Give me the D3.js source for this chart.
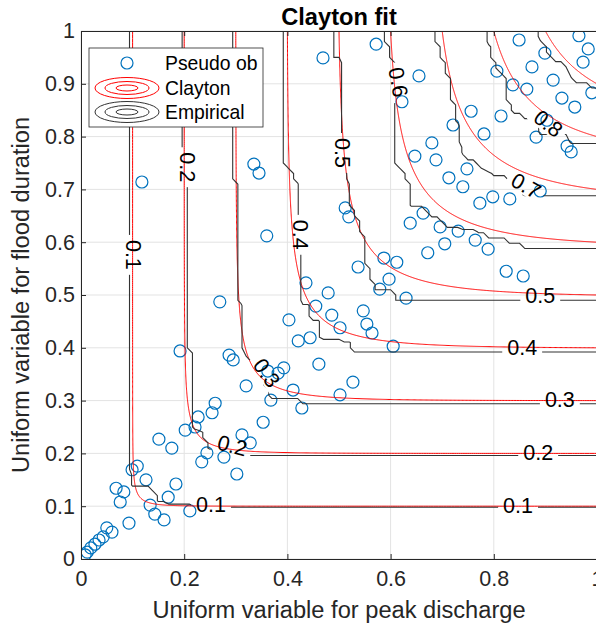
<!DOCTYPE html>
<html>
<head>
<meta charset="utf-8">
<script src="https://cdn.jsdelivr.net/npm/d3@7"></script>
<style>
  body { margin: 0; background: #fff; }
  text { font-family: "Liberation Sans", Arial, sans-serif; fill: #222; }
</style>
</head>
<body>
<svg id="chart" width="596" height="629"></svg>
<script>
// pseudo observations (u = peak discharge, v = flood duration)
const pseudoU = [0.008,0.012,0.019,0.027,0.035,0.043,0.060,0.050,0.093,0.068,0.083,0.076,0.099,0.109,0.126,0.134,0.143,0.161,0.169,0.184,
  0.211,0.151,0.176,0.202,0.221,0.227,0.254,0.260,0.244,0.234,0.277,0.302,0.312,0.328,0.353,0.192,0.287,0.295,0.320,0.362,
  0.382,0.393,0.368,0.411,0.428,0.421,0.444,0.461,0.502,0.118,0.335,0.345,0.360,0.269,0.436,0.479,0.455,0.486,0.403,0.469,
  0.572,0.655,0.622,0.756,0.814,0.721,0.781,0.680,0.647,0.688,0.748,0.713,0.740,0.798,0.831,0.890,0.773,0.849,0.806,0.874,
  0.899,0.837,0.864,0.915,0.932,0.957,0.882,0.942,0.950,0.965,0.983,0.973,0.990,0.903,0.512,0.519,0.638,0.663,0.696,0.731,
  0.764,0.789,0.705,0.672,0.824,0.857,0.587,0.612,0.537,0.597,0.579,0.630,0.547,0.554,0.564,0.502,0.605,0.527];
const pseudoV = [0.008,0.013,0.021,0.028,0.036,0.042,0.051,0.059,0.068,0.134,0.127,0.108,0.169,0.176,0.150,0.102,0.085,0.074,0.117,0.142,
  0.091,0.227,0.210,0.244,0.250,0.269,0.277,0.295,0.201,0.184,0.193,0.161,0.235,0.220,0.259,0.394,0.386,0.377,0.328,0.356,
  0.352,0.362,0.301,0.320,0.286,0.413,0.419,0.369,0.311,0.714,0.748,0.731,0.612,0.487,0.523,0.504,0.479,0.462,0.453,0.949,
  0.975,0.915,0.866,0.848,0.839,0.822,0.805,0.788,0.763,0.756,0.739,0.722,0.705,0.686,0.682,0.697,0.674,0.983,0.924,0.932,
  0.958,0.898,0.890,0.907,0.873,0.856,0.799,0.782,0.771,0.991,0.966,0.941,0.883,0.831,0.665,0.648,0.636,0.655,0.629,0.621,
  0.604,0.587,0.597,0.580,0.545,0.536,0.570,0.562,0.553,0.530,0.511,0.494,0.470,0.445,0.428,0.438,0.403,0.335];

const levels = [0.1, 0.2, 0.3, 0.4, 0.5, 0.6, 0.7, 0.8, 0.9];
const theta = 4.8; // fitted Clayton parameter
const xTicks = [0, 0.2, 0.4, 0.6, 0.8, 1];
const yTicks = [0, 0.1, 0.2, 0.3, 0.4, 0.5, 0.6, 0.7, 0.8, 0.9, 1];

// inline labels on the empirical contours: level, where (u, v), rotation
const contourLabels = [
  { level: 0.1, u: 0.101, v: 0.576, rot: 90 },
  { level: 0.2, u: 0.205, v: 0.742, rot: 90 },
  { level: 0.4, u: 0.424, v: 0.614, rot: 90 },
  { level: 0.5, u: 0.506, v: 0.769, rot: 90 },
  { level: 0.6, u: 0.614, v: 0.903, rot: 80 },
  { level: 0.7, u: 0.862, v: 0.706, rot: 30 },
  { level: 0.8, u: 0.905, v: 0.824, rot: 38 },
  { level: 0.3, u: 0.359, v: 0.352, rot: 55 },
  { level: 0.2, u: 0.293, v: 0.214, rot: 15 },
  { level: 0.1, u: 0.252, v: 0.102, rot: 0 },
  { level: 0.1, u: 0.847, v: 0.100, rot: 0 },
  { level: 0.2, u: 0.886, v: 0.201, rot: 0 },
  { level: 0.3, u: 0.928, v: 0.301, rot: 0 },
  { level: 0.4, u: 0.855, v: 0.400, rot: 0 },
  { level: 0.5, u: 0.890, v: 0.498, rot: 0 }
];

const W = 596, H = 629;
const M = { left: 81, top: 31, right: 597, bottom: 559 };
const FS = 21.5; // axes font size
const x = d3.scaleLinear([0, 1], [M.left, M.right]);
const y = d3.scaleLinear([0, 1], [M.bottom, M.top]);

const svg = d3.select("#chart");
const defs = svg.append("defs");
defs.append("clipPath").attr("id", "plotClip")
  .append("rect").attr("x", M.left).attr("y", M.top)
  .attr("width", M.right - M.left).attr("height", M.bottom - M.top);

// grid
const grid = svg.append("g").attr("stroke", "#e3e3e3").attr("stroke-width", 1);
grid.selectAll(".gx").data(xTicks).join("line").attr("class", "gx")
  .attr("x1", d => x(d)).attr("x2", d => x(d)).attr("y1", M.top).attr("y2", M.bottom);
grid.selectAll(".gy").data(yTicks).join("line").attr("class", "gy")
  .attr("y1", d => y(d)).attr("y2", d => y(d)).attr("x1", M.left).attr("x2", M.right);

// pseudo observations
const pts = pseudoU.map((u, i) => ({ u, v: pseudoV[i] }));
svg.append("g").attr("clip-path", "url(#plotClip)")
  .selectAll("circle").data(pts).join("circle")
  .attr("cx", d => x(d.u)).attr("cy", d => y(d.v)).attr("r", 6)
  .attr("fill", "none").attr("stroke", "#0072BD").attr("stroke-width", 1.2);

// Clayton contours
function claytonCurve(c) {
  const K = Math.pow(c, -theta) + 1, half = K / 2, out = [], steps = 300;
  for (let s = 0; s <= steps; s++) {
    const a = Math.exp(s / steps * Math.log(half));
    out.push([Math.pow(a, -1 / theta), Math.pow(K - a, -1 / theta)]);
  }
  for (let s = steps; s >= 0; s--) {
    const b = Math.exp(s / steps * Math.log(half));
    out.push([Math.pow(K - b, -1 / theta), Math.pow(b, -1 / theta)]);
  }
  return out;
}
const line = d3.line().x(d => x(d[0])).y(d => y(d[1]));
svg.append("g").attr("clip-path", "url(#plotClip)")
  .selectAll("path").data(levels).join("path")
  .attr("d", c => line(claytonCurve(c)))
  .attr("fill", "none").attr("stroke", "#ff0000").attr("stroke-width", 1);

// empirical copula on a grid, contoured
const N = 101, n = pts.length;
const vals = new Array(N * N);
for (let j = 0; j < N; j++) {
  const vv = j / (N - 1) + 1e-9;
  for (let i = 0; i < N; i++) {
    const uu = i / (N - 1) + 1e-9;
    let cnt = 0;
    pts.forEach(p => { if (p.u <= uu && p.v <= vv) cnt++; });
    vals[j * N + i] = cnt / n;
  }
}
const empContours = d3.contours().size([N, N]).thresholds(levels)(vals);
const proj = d3.geoTransform({
  point(px, py) { this.stream.point(x((px - 0.5) / (N - 1)), y((py - 0.5) / (N - 1))); }
});
const geo = d3.geoPath(proj);

const mask = defs.append("mask").attr("id", "labelGaps").attr("maskUnits", "userSpaceOnUse")
  .attr("x", 0).attr("y", 0).attr("width", W).attr("height", H);
mask.append("rect").attr("width", W).attr("height", H).attr("fill", "white");

svg.append("g").attr("clip-path", "url(#plotClip)")
  .append("g").attr("mask", "url(#labelGaps)")
  .selectAll("path").data(empContours).join("path")
  .attr("d", geo)
  .attr("fill", "none").attr("stroke", "#333").attr("stroke-width", 1.1);

// contour labels
const labG = svg.append("g");
contourLabels.forEach(l => {
  const px = x(l.u), py = y(l.v);
  const t = labG.append("text")
    .attr("transform", `translate(${px},${py}) rotate(${l.rot})`)
    .attr("text-anchor", "middle").attr("dominant-baseline", "central")
    .style("font-size", FS + "px").style("fill", "#000")
    .text(String(l.level));
  const w = t.node().getComputedTextLength() + 10;
  mask.append("rect")
    .attr("transform", `translate(${px},${py}) rotate(${l.rot})`)
    .attr("x", -w / 2).attr("y", -9).attr("width", w).attr("height", 18)
    .attr("fill", "black");
});

// axes (ticks inside, box)
const axColor = "#262626";
const axBottom = svg.append("g").attr("transform", `translate(0,${M.bottom})`)
  .call(d3.axisBottom(x).tickValues(xTicks).tickFormat(d3.format("")).tickSize(-5).tickSizeOuter(0).tickPadding(12));
const axLeft = svg.append("g").attr("transform", `translate(${M.left},0)`)
  .call(d3.axisLeft(y).tickValues(yTicks).tickFormat(d3.format("")).tickSize(-5).tickSizeOuter(0).tickPadding(6));
const axTop = svg.append("g").attr("transform", `translate(0,${M.top})`)
  .call(d3.axisTop(x).tickValues(xTicks).tickFormat("").tickSize(-5).tickSizeOuter(0));
[axBottom, axLeft, axTop].forEach(a => {
  a.selectAll("path,line").attr("stroke", axColor);
  a.selectAll("text").style("font-size", FS + "px").style("fill", axColor)
    .style("font-family", '"Liberation Sans", Arial, sans-serif');
});

// legend
const leg = svg.append("g");
leg.append("rect").attr("x", 89).attr("y", 48).attr("width", 174).attr("height", 79)
  .attr("fill", "#fff").attr("stroke", axColor).attr("stroke-width", 0.8);
leg.append("circle").attr("cx", 127).attr("cy", 63).attr("r", 6)
  .attr("fill", "none").attr("stroke", "#0072BD").attr("stroke-width", 1.2);
const rings = [[32, 10.5], [22, 6.5], [11, 3]];
[["#ff0000", 88], ["#333", 112]].forEach(([col, cy]) => {
  rings.forEach(([rx, ry]) => leg.append("ellipse").attr("cx", 127).attr("cy", cy)
    .attr("rx", rx).attr("ry", ry).attr("fill", "none").attr("stroke", col).attr("stroke-width", 1));
});
[["Pseudo ob", 63], ["Clayton", 88], ["Empirical", 112]].forEach(([txt, cy]) => {
  leg.append("text").attr("x", 165).attr("y", cy).attr("dominant-baseline", "central")
    .style("font-size", (FS * 0.9) + "px").style("fill", "#000").text(txt);
});

// titles
svg.append("text").attr("x", 339).attr("y", 25).attr("text-anchor", "middle")
  .style("font-size", (FS * 1.1) + "px").style("font-weight", "bold").style("fill", "#000").text("Clayton fit");
svg.append("text").attr("x", 339).attr("y", 618).attr("text-anchor", "middle")
  .style("font-size", (FS * 1.1) + "px").style("fill", axColor).text("Uniform variable for peak discharge");
svg.append("text").attr("transform", "translate(29,295) rotate(-90)").attr("text-anchor", "middle")
  .style("font-size", (FS * 1.1) + "px").style("fill", axColor).text("Uniform variable for flood duration");
</script>
</body>
</html>
